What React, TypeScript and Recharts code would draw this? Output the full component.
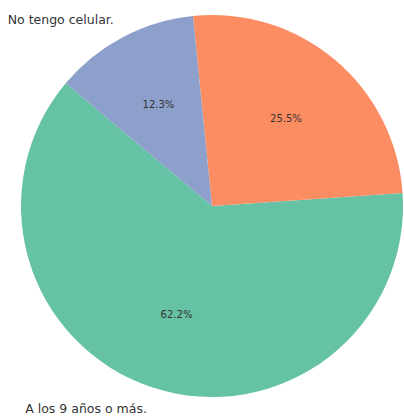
import React from "react"
import { PieChart, Pie, Cell } from "recharts"

// slice order follows the reference (counter-clockwise from ~140°)
const categories = ["A los 9 años o más.", "Antes de los 9 años.", "No tengo celular."]
const shares = [62.2, 25.5, 12.3]
// the outer label of the orange slice is not visible in the picture
const outerLabels = ["A los 9 años o más.", "", "No tengo celular."]
const colors = ["#66c2a5", "#fc8d62", "#8da0cb"]

const data = categories.map((name, i) => ({ name, value: shares[i] }))

const RAD = Math.PI / 180

function renderLabel(props: any) {
  const { cx, cy, midAngle, outerRadius, index } = props
  const cos = Math.cos(-midAngle * RAD)
  const sin = Math.sin(-midAngle * RAD)
  const pr = outerRadius * 0.6
  const lr = outerRadius * 1.1
  const lx = cx + lr * cos
  const ly = cy + lr * sin + (sin > 0 ? 3 : -1)
  return (
    <g>
      <text
        x={cx + pr * cos}
        y={cy + pr * sin}
        textAnchor="middle"
        dominantBaseline="central"
        fontSize={10}
        fill="#333"
        fontFamily="DejaVu Sans"
      >
        {shares[index].toFixed(1)}%
      </text>
      {outerLabels[index] && (
        <text
          x={lx}
          y={ly}
          textAnchor={cos < 0 ? "end" : "start"}
          dominantBaseline="central"
          fontSize={12.5}
          fill="#333"
          fontFamily="DejaVu Sans"
        >
          {outerLabels[index]}
        </text>
      )}
    </g>
  )
}

export default function App() {
  return (
    <div style={{ position: "absolute", top: 0, left: 0, width: 404, height: 417, background: "#fff" }}>
      <PieChart width={404} height={417} margin={{ top: 0, right: 0, bottom: 0, left: 0 }}>
        <Pie
          data={data}
          dataKey="value"
          nameKey="name"
          cx={212}
          cy={206}
          outerRadius={191}
          startAngle={140}
          endAngle={500}
          stroke="none"
          label={renderLabel}
          labelLine={false}
          isAnimationActive={false}
        >
          {data.map((d, i) => (
            <Cell key={d.name} fill={colors[i]} />
          ))}
        </Pie>
      </PieChart>
    </div>
  )
}
